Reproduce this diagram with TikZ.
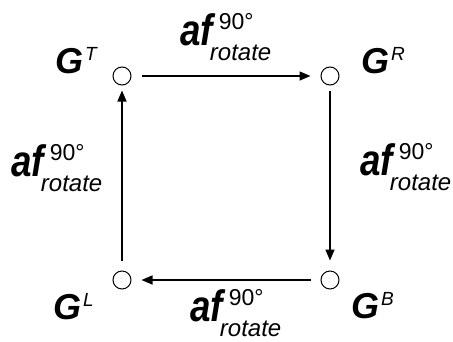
\documentclass[tikz,border=0pt]{standalone}
\usepackage{fontspec}
\setmainfont{Liberation Sans}
\usetikzlibrary{arrows.meta}

\newcommand{\glab}[1]{{\fontsize{36}{36}\selectfont\bfseries\itshape G}\hspace{2pt}\raisebox{13pt}{\fontsize{19}{19}\selectfont\itshape #1}}
\newcommand{\afrot}{\scalebox{0.92}[1.1]{\fontsize{40}{40}\selectfont\bfseries\itshape af}\hspace{6pt}\rlap{\raisebox{16pt}{\fontsize{23}{23}\selectfont 90°}}\hspace{-9pt}\raisebox{-15pt}{\fontsize{24}{24}\selectfont\itshape rotate}}

\tikzset{
  state/.style={draw, circle, line width=1pt, minimum size=18pt, inner sep=0pt},
  link/.style={line width=1.5pt, -{Triangle[length=11pt,width=9pt]}, shorten <=10pt, shorten >=10pt},
  lab/.style={anchor=base west, inner sep=0pt}
}

\begin{document}
\begin{tikzpicture}[x=1pt, y=-1pt]
	\useasboundingbox (0,0) rectangle (453,341);
	% Zustaende
	\node[state] (gT) at (122,76) {};
	\node[state] (gR) at (330,76) {};
	\node[state] (gB) at (330,280) {};
	\node[state] (gL) at (122,280) {};
	
	\node[lab] (lT) at (55,73) {\glab{T}};
	\node[lab] (lR) at (361,73) {\glab{R}};
	\node[lab] (lB) at (351,318) {\glab{B}};
	\node[lab] (lL) at (53,319) {\glab{L}};
	
	% Drehungen
	\draw[link] (gT) -- (gR);
	\draw[link, shorten <=5pt] (gR) -- (gB);
	\draw[link] (gB) -- (gL);
	\draw[link, shorten >=5pt] (gL) -- (gT);
	
	\node[lab] (rTop) at (180,45) {\afrot};
	\node[lab] (rRight) at (360,175) {\afrot};
	\node[lab] (rBottom) at (190,321) {\afrot};
	\node[lab] (rLeft) at (11,176) {\afrot};
\end{tikzpicture}
\end{document}
